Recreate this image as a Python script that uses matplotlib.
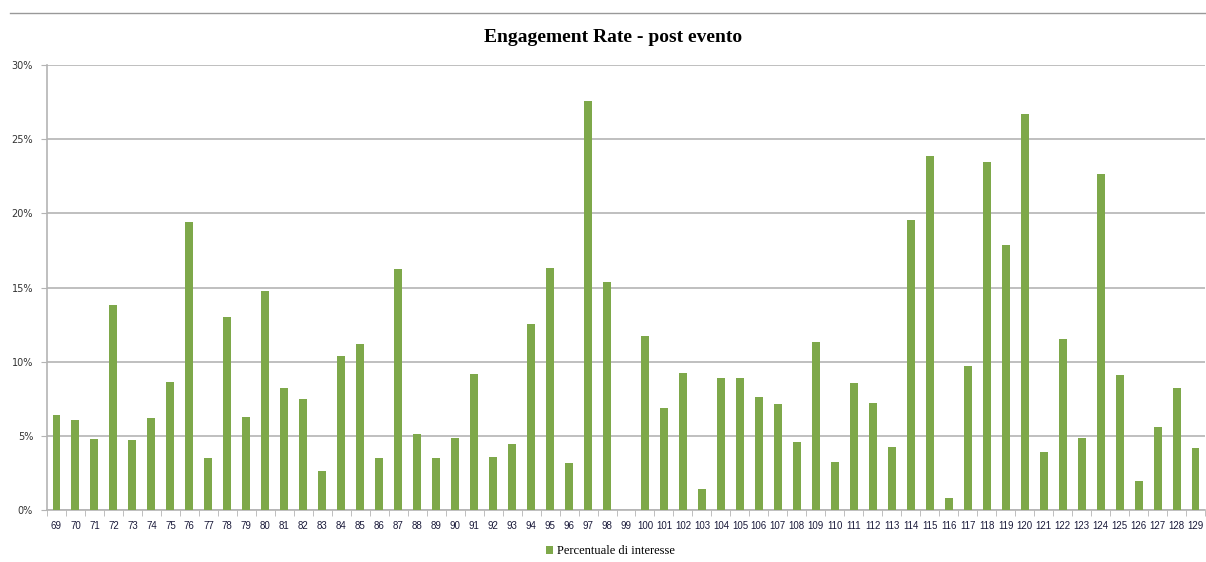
import numpy as np
import matplotlib
matplotlib.use("Agg")
import matplotlib.pyplot as plt
from matplotlib.lines import Line2D
from matplotlib.ticker import FixedLocator, PercentFormatter

# post numbers on the x axis
posts = list(range(69, 130))

# engagement rate per post, in percent
engagement = [
    6.43, 6.05, 4.77, 13.82, 4.70, 6.18, 8.65, 19.42, 3.51, 12.99,   # 69-78
    6.27, 14.79, 8.20, 7.46, 2.63, 10.38, 11.19, 3.51, 16.27, 5.10,  # 79-88
    3.51, 4.86, 9.19, 3.57, 4.43, 12.52, 16.34, 3.15, 27.58, 15.37,  # 89-98
    0.00, 11.71, 6.86, 9.26, 1.44, 8.88, 8.88, 7.62, 7.17, 4.56,     # 99-108
    11.35, 3.21, 8.58, 7.24, 4.25, 19.58, 23.85, 0.83, 9.71, 23.49,  # 109-118
    17.85, 26.68, 3.89, 11.51, 4.83, 22.64, 9.10, 1.93, 5.60, 8.23,  # 119-128
    4.18,                                                            # 129
]

bar_color = "#7ea84a"
grid_color = "#b4b4b4"

fig = plt.figure(figsize=(12.06, 5.62), dpi=100)
ax = fig.add_axes([47 / 1206, 52 / 562, 1158 / 1206, 445 / 562])

x = np.arange(len(posts))
ax.bar(x, engagement, width=0.42, color=bar_color, zorder=3,
       label="Percentuale di interesse")

ax.set_xlim(-0.5, len(posts) - 0.5)
ax.set_ylim(0, 30)
ax.set_yticks(range(0, 31, 5))
ax.yaxis.set_major_formatter(PercentFormatter(decimals=0))
ax.yaxis.grid(True, color=grid_color, linewidth=1.2, zorder=0)

ax.set_xticks(x)
ax.set_xticklabels([str(p) for p in posts], family="Liberation Sans")
ax.xaxis.set_minor_locator(FixedLocator(np.arange(-0.5, len(posts), 1)))
ax.tick_params(axis="x", which="major", length=0, pad=8,
               labelsize=7, labelcolor="#1a1a3a")
ax.tick_params(axis="x", which="minor", length=4, color=grid_color)
ax.tick_params(axis="y", length=4, color=grid_color, pad=6,
               labelsize=7, labelcolor="#333333")

for side in ("top", "right"):
    ax.spines[side].set_visible(False)
for side in ("left", "bottom"):
    ax.spines[side].set_color(grid_color)
    ax.spines[side].set_linewidth(1.2)

fig.text(0.508, 1 - 38 / 562, "Engagement Rate - post evento",
         ha="center", va="center", fontsize=14, fontweight="bold",
         family="Liberation Serif")

# thin rule across the top of the sheet
fig.add_artist(Line2D([10 / 1206, 1.0], [1 - 13 / 562, 1 - 13 / 562],
                      color="#999999", linewidth=1))

fig.legend(loc="center", bbox_to_anchor=(0.506, 1 - 551 / 562),
           frameon=False, handlelength=0.6, handleheight=0.6,
           handletextpad=0.3, prop={"family": "Liberation Serif", "size": 9})

fig.savefig("out.png", dpi=100)
